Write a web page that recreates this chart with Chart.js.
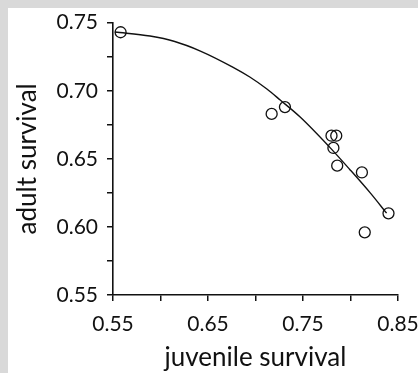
<!DOCTYPE html>
<html>
<head>
<meta charset="utf-8">
<script src="https://cdn.jsdelivr.net/npm/chart.js@4"></script>
<style>
  html, body { margin: 0; padding: 0; background: #d9d9d9; }
  #wrap { position: absolute; left: 8px; top: 8px; width: 410px; height: 365px; background: #fff; }
</style>
</head>
<body>
<div id="wrap"><canvas id="chart" width="410" height="365"></canvas></div>
<script>
const juvenile = [0.558, 0.717, 0.731, 0.780, 0.785, 0.782, 0.786, 0.812, 0.815, 0.840];
const adult = [0.743, 0.683, 0.688, 0.667, 0.667, 0.658, 0.645, 0.640, 0.596, 0.610];

// Fitted curve, sampled along the drawn line.
const fitX = [0.552, 0.589, 0.615, 0.642, 0.676, 0.694, 0.712, 0.726, 0.747, 0.778, 0.799, 0.821, 0.838];
const fitY = [0.7432, 0.7402, 0.7362, 0.7292, 0.7174, 0.7101, 0.7013, 0.6932, 0.6807, 0.6586, 0.6424, 0.6248, 0.6101];

const xTickLabels = ["0.55", "0.65", "0.75", "0.85"];
const yTickLabels = ["0.55", "0.60", "0.65", "0.70", "0.75"];

const ink = "#111";
const tickFont = { family: "Lato, 'Open Sans', sans-serif", size: 21 };
const titleFont = { family: "Lato, 'Open Sans', sans-serif", size: 26 };

// Only the major steps get a label; the minor steps keep a bare tick mark.
function pickLabel(labels) {
  return value => {
    const s = value.toFixed(2);
    return labels.includes(s) && Math.abs(value - parseFloat(s)) < 1e-6 ? s : "";
  };
}

new Chart(document.getElementById("chart"), {
  type: "scatter",
  data: {
    datasets: [
      {
        type: "line",
        data: fitX.map((x, i) => ({ x: x, y: fitY[i] })),
        borderColor: ink,
        borderWidth: 1.4,
        pointRadius: 0,
        cubicInterpolationMode: "monotone",
        fill: false,
        clip: false
      },
      {
        data: juvenile.map((x, i) => ({ x: x, y: adult[i] })),
        backgroundColor: "rgba(255,255,255,0)",
        borderColor: ink,
        borderWidth: 1.3,
        pointRadius: 5.5,
        clip: false
      }
    ]
  },
  options: {
    responsive: false,
    animation: false,
    layout: { padding: { top: 14.7, right: 20, bottom: 0, left: 0 } },
    plugins: { legend: { display: false }, tooltip: { enabled: false } },
    scales: {
      x: {
        type: "linear",
        min: 0.55,
        max: 0.85,
        afterFit: scale => { scale.height = 78; scale.paddingLeft = 0; scale.paddingRight = 0; },
        ticks: { stepSize: 0.05, color: ink, font: tickFont, padding: 11, maxRotation: 0, autoSkip: false,
                 callback: pickLabel(xTickLabels) },
        grid: { drawOnChartArea: false, drawTicks: true, tickLength: 6, color: ink, lineWidth: 1.5 },
        border: { display: true, color: ink, width: 1.6 },
        title: { display: true, text: "juvenile survival", color: ink, font: titleFont, padding: 0 }
      },
      y: {
        type: "linear",
        min: 0.55,
        max: 0.75,
        afterFit: scale => { scale.width = 105; scale.paddingTop = 0; scale.paddingBottom = 0; },
        ticks: { stepSize: 0.025, color: ink, font: tickFont, padding: 9, autoSkip: false,
                 callback: pickLabel(yTickLabels) },
        grid: { drawOnChartArea: false, drawTicks: true, tickLength: 6, color: ink, lineWidth: 1.5 },
        border: { display: true, color: ink, width: 1.6 },
        title: { display: true, text: "adult survival", color: ink, font: titleFont, padding: { top: 4, bottom: 0 } }
      }
    }
  }
});
</script>
</body>
</html>
